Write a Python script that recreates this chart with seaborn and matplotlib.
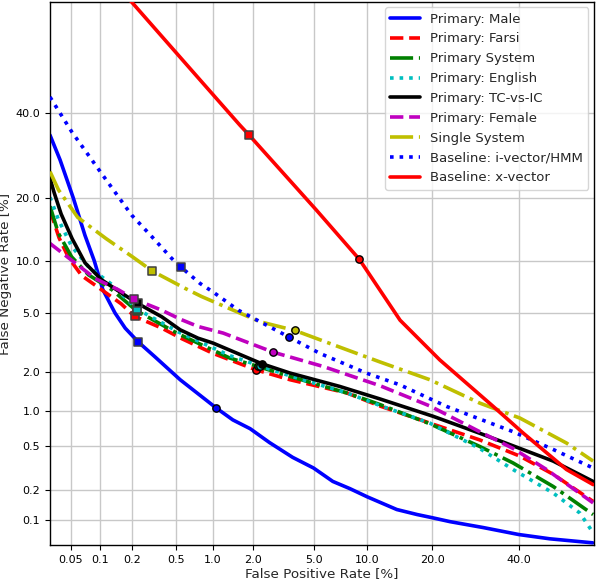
import numpy as np
import matplotlib
matplotlib.use("Agg")
import matplotlib.pyplot as plt
import seaborn as sns
from statistics import NormalDist

# ---------------- data (percent) ----------------
male_fpr = [0.03, 0.0385, 0.053, 0.070, 0.087, 0.106, 0.139, 0.174, 0.23, 0.327, 0.54, 1.06, 1.42, 1.9, 2.6,
            3.7, 5.0, 6.5, 8.1, 10.0, 14.0, 17.3, 20.0, 23.6, 31.0, 40.0, 48.3, 59.8]
male_fnr = [34.3, 28.2, 20.0, 13.5, 10.0, 6.9, 5.0, 4.0, 3.24, 2.55, 1.74, 1.05, 0.84, 0.71, 0.54,
            0.40, 0.32, 0.24, 0.205, 0.171, 0.128, 0.114, 0.106, 0.0965, 0.084, 0.071, 0.064, 0.058]

farsi_fpr = [0.03, 0.0376, 0.0474, 0.065, 0.103, 0.159, 0.213, 0.375, 0.56, 1.0, 2.09, 3.56, 7.8, 11.6,
             19.6, 30.2, 40.3, 49.2, 59.9]
farsi_fnr = [17.7, 13.1, 10.4, 8.3, 6.9, 5.7, 4.76, 4.0, 3.4, 2.7, 2.06, 1.74, 1.38, 1.09,
             0.79, 0.57, 0.41, 0.28, 0.154]

system_fpr = [0.03, 0.037, 0.051, 0.076, 0.13, 0.223, 0.52, 1.35, 2.16, 3.56, 7.8, 11.6, 19.6, 30.2,
              38.5, 49.2, 59.9]
system_fnr = [18.4, 13.8, 10.5, 8.4, 6.9, 5.15, 3.67, 2.5, 2.18, 1.84, 1.38, 1.12, 0.78, 0.5,
              0.356, 0.215, 0.114]

english_fpr = [0.03, 0.037, 0.051, 0.076, 0.13, 0.223, 0.52, 1.35, 2.23, 3.56, 7.8, 11.6, 19.6, 30.2,
               38.5, 49.2, 56.4, 59.9]
english_fnr = [20.1, 16.0, 11.9, 9.3, 7.4, 5.3, 3.78, 2.6, 2.2, 1.86, 1.38, 1.1, 0.79, 0.48,
               0.31, 0.186, 0.118, 0.074]

tcic_fpr = [0.03, 0.0333, 0.0395, 0.0516, 0.0702, 0.103, 0.161, 0.227, 0.375, 0.54, 0.76, 1.0, 2.3,
            3.56, 7.1, 11.6, 20.2, 30.2, 40.3, 49.2, 59.9]
tcic_fnr = [24.0, 21.0, 17.0, 13.0, 9.75, 7.87, 6.6, 5.73, 4.73, 3.9, 3.43, 3.18, 2.28,
            1.95, 1.55, 1.24, 0.90, 0.65, 0.48, 0.37, 0.24]

female_fpr = [0.03, 0.052, 0.089, 0.15, 0.212, 0.375, 0.54, 0.76, 1.2, 2.76, 5.7, 11.6, 19.6, 30.2,
              38.5, 47.4, 59.9]
female_fnr = [12.3, 10.0, 8.0, 6.9, 6.07, 5.2, 4.57, 4.1, 3.71, 2.75, 2.18, 1.57, 1.09, 0.67,
              0.48, 0.31, 0.149]

single_fpr = [0.03, 0.037, 0.059, 0.114, 0.204, 0.31, 0.59, 0.81, 1.43, 2.23, 3.83, 7.8, 11.6, 19.6,
              30.2, 40.3, 52.8, 59.9]
single_fnr = [25.5, 21.6, 16.4, 13.0, 10.5, 8.8, 7.05, 6.3, 5.2, 4.4, 3.86, 2.86, 2.35, 1.74,
              1.15, 0.87, 0.535, 0.37]

ivec_fpr = [0.03, 0.051, 0.092, 0.134, 0.2, 0.306, 0.458, 0.544, 0.79, 1.0, 1.56, 3.49, 5.46, 9.9,
            14.5, 22.9, 38.5, 49.2, 59.9]
ivec_fnr = [44.5, 35.2, 26.6, 21.6, 16.8, 13.3, 10.3, 9.3, 7.5, 6.7, 5.2, 3.5, 2.7, 1.95,
            1.59, 1.08, 0.67, 0.47, 0.32]

xvec_fpr = [0.159, 0.2, 0.79, 1.6, 1.87, 5.2, 9.1, 14.5, 21.5, 33.5, 41.2, 52.8, 59.9]
xvec_fnr = [72.8, 70.0, 49.2, 36.9, 34.3, 17.7, 10.2, 4.5, 2.43, 1.08, 0.65, 0.31, 0.224]

labels = ["Primary: Male", "Primary: Farsi", "Primary System", "Primary: English", "Primary: TC-vs-IC",
          "Primary: Female", "Single System", "Baseline: i-vector/HMM", "Baseline: x-vector"]

# operating points (percent): square markers and circle (EER) markers, same order as labels
square_fpr = [0.23, 0.213, 0.223, 0.223, 0.227, 0.212, 0.31, 0.544, 1.87]
square_fnr = [3.24, 4.76, 5.15, 5.3, 5.73, 6.07, 8.8, 9.3, 34.3]
circle_fpr = [1.06, 2.09, 2.16, 2.23, 2.3, 2.76, 3.83, 3.49, 9.1]
circle_fnr = [1.05, 2.06, 2.18, 2.2, 2.28, 2.75, 3.86, 3.5, 10.2]

xtick_values = [0.05, 0.1, 0.2, 0.5, 1.0, 2.0, 5.0, 10.0, 20.0, 40.0]
xtick_labels = ["0.05", "0.1", "0.2", "0.5", "1.0", "2.0", "5.0", "10.0", "20.0", "40.0"]
ytick_values = [0.1, 0.2, 0.5, 1.0, 2.0, 5.0, 10.0, 20.0, 40.0]
ytick_labels = ["0.1", "0.2", "0.5", "1.0", "2.0", "5.0", "10.0", "20.0", "40.0"]

# ---------------- probit scale ----------------
_nd = NormalDist()


def _ppf(p):
    a = np.asarray(p, dtype=float)
    out = np.full(a.shape, np.nan)
    ok = np.isfinite(a)
    vals = np.clip(a[ok], 1e-12, 1 - 1e-12)
    out[ok] = [_nd.inv_cdf(float(v)) for v in vals]
    return out


def _cdf(z):
    a = np.asarray(z, dtype=float)
    out = np.full(a.shape, np.nan)
    ok = np.isfinite(a)
    out[ok] = [_nd.cdf(float(v)) for v in a[ok]]
    return out


# ---------------- style ----------------
sns.set_style("white")
plt.rcParams.update({
    "font.family": ["DejaVu Sans"],
    "axes.edgecolor": "black",
    "axes.linewidth": 1.0,
    "xtick.bottom": True,
    "ytick.left": True,
    "xtick.major.size": 3.5,
    "ytick.major.size": 3.5,
    "xtick.color": "black",
    "ytick.color": "black",
})

fig = plt.figure(figsize=(5.96, 5.80), dpi=100)
ax = fig.add_axes([50 / 596, 35 / 580, 543.5 / 596, 543 / 580])

series = [
    (male_fpr, male_fnr, "b", "-"),
    (farsi_fpr, farsi_fnr, "r", "--"),
    (system_fpr, system_fnr, "g", "-."),
    (english_fpr, english_fnr, "c", ":"),
    (tcic_fpr, tcic_fnr, "k", "-"),
    (female_fpr, female_fnr, "m", "--"),
    (single_fpr, single_fnr, "y", "-."),
    (ivec_fpr, ivec_fnr, "b", ":"),
    (xvec_fpr, xvec_fnr, "r", "-"),
]

for i, ((fx, fy, col, ls), lab) in enumerate(zip(series, labels)):
    sns.lineplot(x=np.array(fx) / 100.0, y=np.array(fy) / 100.0, ax=ax, color=col,
                 linestyle=ls, linewidth=2.6, label=lab, sort=False, estimator=None,
                 zorder=2 + i * 0.1)

for i, (fx, fy, col, ls) in enumerate(series):
    sns.scatterplot(x=[square_fpr[i] / 100.0], y=[square_fnr[i] / 100.0], ax=ax, marker="s",
                    color=col, edgecolor="0.25", linewidth=1.1, s=28, zorder=5, legend=False)
    sns.scatterplot(x=[circle_fpr[i] / 100.0], y=[circle_fnr[i] / 100.0], ax=ax, marker="o",
                    color=col, edgecolor="black", linewidth=1.0, s=28, zorder=5, legend=False)

ax.set_xscale("function", functions=(_ppf, _cdf))
ax.set_yscale("function", functions=(_ppf, _cdf))
ax.set_xlim(0.0003, 0.6)
ax.set_ylim(0.00055, 0.70)

ax.set_xticks([v / 100.0 for v in xtick_values])
ax.set_xticklabels(xtick_labels)
ax.set_yticks([v / 100.0 for v in ytick_values])
ax.set_yticklabels(ytick_labels)
ax.minorticks_off()
ax.tick_params(labelsize=8)

ax.grid(True, color="#c8c8c8", linewidth=1.0)
ax.set_axisbelow(True)

ax.set_xlabel("False Positive Rate [%]", fontsize=9.7, labelpad=1.5)
ax.set_ylabel("False Negative Rate [%]", fontsize=9.7, labelpad=2.5)

leg = ax.legend(loc="upper right", fontsize=9.5, labelspacing=0.52, handlelength=2.2,
                borderaxespad=0.4, frameon=True, fancybox=True)
leg.get_frame().set_edgecolor("#cccccc")
leg.get_frame().set_linewidth(1.0)

fig.savefig("out.png", dpi=100)
